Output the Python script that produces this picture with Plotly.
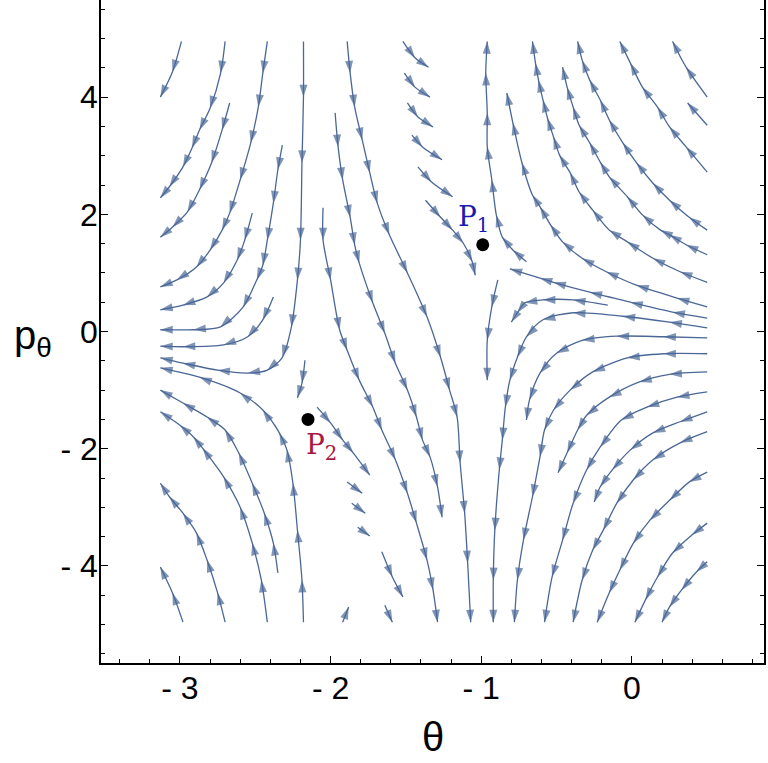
import plotly.graph_objects as go

# streamlines, each as (theta, p_theta) points in flow order
tl_1 = [(-2.99, 4.95), (-3.05, 4.43), (-3.13, 4.00)]
tl_2 = [(-2.70, 4.95), (-2.73, 4.41), (-2.80, 3.81), (-2.87, 3.44), (-2.92, 3.13),
        (-2.98, 2.81), (-3.07, 2.47), (-3.13, 2.28)]
tl_3 = [(-2.67, 3.90), (-2.72, 3.44), (-2.79, 2.88), (-2.87, 2.42), (-2.95, 2.04),
        (-3.05, 1.78), (-3.13, 1.61)]
tl_4 = [(-2.42, 4.95), (-2.45, 4.41), (-2.48, 3.83), (-2.53, 3.22), (-2.60, 2.59),
        (-2.67, 2.02), (-2.72, 1.73), (-2.80, 1.39), (-2.89, 1.10), (-3.02, 0.88), (-3.13, 0.76)]
tl_5 = [(-2.52, 2.02), (-2.57, 1.56), (-2.62, 1.22), (-2.71, 0.83), (-2.82, 0.59),
        (-2.98, 0.45), (-3.13, 0.37)]
tl_6 = [(-2.32, 3.18), (-2.35, 2.76), (-2.38, 2.19), (-2.42, 1.56), (-2.45, 1.13),
        (-2.49, 0.88), (-2.58, 0.42), (-2.73, 0.08), (-2.91, 0.03), (-3.13, 0.03)]
tl_7 = [(-2.38, 0.59), (-2.45, 0.20), (-2.55, -0.09), (-2.71, -0.23), (-2.98, -0.26), (-3.13, -0.25)]
tl_8 = [(-2.18, 4.95), (-2.18, 4.00), (-2.19, 2.88), (-2.20, 1.56), (-2.22, 0.88), (-2.26, 0.08),
        (-2.32, -0.44), (-2.42, -0.66), (-2.55, -0.71), (-2.75, -0.66), (-2.98, -0.54), (-3.13, -0.45)]
near_p2 = [(-2.17, -0.49), (-2.19, -0.88), (-2.22, -1.13)]

bl_1 = [(-2.18, -4.96), (-2.19, -4.24), (-2.22, -3.39), (-2.25, -2.59), (-2.29, -2.02),
        (-2.34, -1.73), (-2.45, -1.34), (-2.60, -1.05), (-2.87, -0.78), (-3.13, -0.62)]
bl_2 = [(-2.35, -4.12), (-2.38, -3.61), (-2.44, -3.10), (-2.52, -2.59), (-2.61, -2.07),
        (-2.70, -1.68), (-2.82, -1.46), (-2.98, -1.22), (-3.13, -1.00)]
bl_3 = [(-2.42, -4.96), (-2.46, -4.24), (-2.52, -3.61), (-2.60, -3.00), (-2.71, -2.48),
        (-2.85, -1.99), (-2.91, -1.80), (-3.00, -1.60), (-3.13, -1.37)]
bl_4 = [(-2.70, -4.96), (-2.75, -4.46), (-2.82, -3.90), (-2.89, -3.44), (-2.98, -3.10),
        (-3.07, -2.82), (-3.13, -2.59)]
bl_5 = [(-2.98, -4.96), (-3.05, -4.46), (-3.13, -4.02)]
bl_6 = [(-1.92, -4.96), (-1.88, -4.70)]

mid_1 = [(-1.89, 4.95), (-1.87, 4.41), (-1.84, 3.83), (-1.79, 3.27), (-1.74, 2.71), (-1.69, 2.19),
         (-1.61, 1.65), (-1.49, 1.00), (-1.36, 0.25), (-1.27, -0.44), (-1.21, -1.00), (-1.16, -1.46),
         (-1.14, -2.24), (-1.11, -3.10), (-1.09, -3.95), (-1.07, -4.96)]
mid_2 = [(-1.97, 3.73), (-1.95, 3.15), (-1.92, 2.59), (-1.87, 1.95), (-1.84, 1.48), (-1.81, 1.17),
         (-1.72, 0.49), (-1.64, -0.03), (-1.57, -0.54), (-1.49, -1.00), (-1.43, -1.46),
         (-1.39, -1.85), (-1.34, -2.14), (-1.29, -2.65), (-1.26, -3.17)]
mid_3 = [(-2.05, 2.11), (-2.05, 1.56), (-2.00, 0.88), (-1.94, 0.03), (-1.89, -0.32), (-1.81, -0.83),
         (-1.72, -1.29), (-1.66, -1.68), (-1.57, -2.19), (-1.49, -2.76), (-1.43, -3.27),
         (-1.36, -3.90), (-1.32, -4.41), (-1.29, -4.96)]

short_1 = [(-1.52, 4.95), (-1.44, 4.67), (-1.35, 4.51)]
short_2 = [(-1.51, 4.41), (-1.44, 4.17), (-1.34, 4.00)]
short_3 = [(-1.49, 3.90), (-1.42, 3.66), (-1.32, 3.49)]
short_4 = [(-1.46, 3.35), (-1.39, 3.15), (-1.26, 2.93)]
short_5 = [(-1.42, 2.81), (-1.33, 2.55), (-1.19, 2.30)]
short_6 = [(-1.37, 2.24), (-1.27, 1.95), (-1.19, 1.73), (-1.12, 1.51), (-1.06, 1.19), (-1.04, 0.96)]

below_p2_1 = [(-2.09, -1.29), (-2.00, -1.56), (-1.92, -1.85), (-1.85, -2.07), (-1.74, -2.45)]
below_p2_2 = [(-1.89, -2.57), (-1.79, -2.76)]
below_p2_3 = [(-1.86, -2.93), (-1.77, -3.10)]
below_p2_4 = [(-1.82, -3.34), (-1.74, -3.49)]
below_p2_5 = [(-1.66, -3.76), (-1.59, -4.19), (-1.52, -4.53)]
below_p2_6 = [(-1.64, -4.67), (-1.59, -4.96)]

above_p1 = [(-0.70, 1.19), (-0.79, 1.39), (-0.86, 1.61), (-0.90, 1.99), (-0.93, 2.59),
            (-0.96, 3.15), (-0.96, 3.73), (-0.97, 4.41), (-0.96, 4.95)]
below_p1 = [(-0.89, 0.88), (-0.93, 0.42), (-0.96, -0.15), (-0.96, -0.83)]

tr_1 = [(0.50, 0.42), (0.30, 0.57), (0.03, 0.79), (-0.17, 1.02), (-0.33, 1.25), (-0.46, 1.53),
        (-0.54, 1.82), (-0.61, 2.13), (-0.66, 2.33), (-0.73, 2.88), (-0.79, 3.56), (-0.83, 4.07)]
tr_2 = [(0.50, 0.84), (0.32, 1.02), (0.14, 1.25), (-0.03, 1.53), (-0.15, 1.73), (-0.26, 2.07),
        (-0.35, 2.38), (-0.41, 2.71), (-0.48, 3.01), (-0.52, 3.32), (-0.56, 3.64), (-0.59, 3.95),
        (-0.62, 4.29), (-0.64, 4.58), (-0.66, 4.95)]
tr_3 = [(0.50, 1.31), (0.36, 1.48), (0.25, 1.65), (0.19, 1.73), (0.07, 1.99), (-0.03, 2.30),
        (-0.15, 2.64), (-0.21, 2.89), (-0.28, 3.22), (-0.35, 3.52), (-0.39, 3.83), (-0.43, 4.17),
        (-0.46, 4.51)]
tr_4 = [(0.50, 1.73), (0.38, 1.95), (0.25, 2.24), (0.14, 2.53), (0.03, 2.88), (-0.06, 3.22),
        (-0.15, 3.61), (-0.21, 3.95), (-0.28, 4.29), (-0.33, 4.63), (-0.36, 4.95)]
tr_5 = [(0.50, 2.72), (0.36, 3.15), (0.25, 3.49), (0.17, 3.83), (0.07, 4.17), (-0.01, 4.58), (-0.08, 4.95)]
tr_6 = [(0.50, 4.00), (0.36, 4.51), (0.27, 4.95)]
tr_7 = [(0.50, 3.52), (0.37, 3.90)]

r_1 = [(0.50, 0.23), (0.27, 0.33), (-0.01, 0.50), (-0.28, 0.67), (-0.52, 0.84), (-0.61, 0.91), (-0.81, 1.07)]
r_2 = [(-0.16, 0.45), (-0.39, 0.54), (-0.59, 0.54), (-0.71, 0.49), (-0.76, 0.32), (-0.80, 0.16)]
r_3 = [(0.50, 0.06), (0.25, 0.16), (-0.06, 0.26), (-0.39, 0.32), (-0.59, 0.20), (-0.70, -0.09),
       (-0.76, -0.44), (-0.81, -0.83), (-0.84, -1.29), (-0.86, -1.85), (-0.88, -2.36),
       (-0.91, -3.39), (-0.92, -4.24), (-0.92, -4.96)]
r_4 = [(0.50, -0.11), (0.21, -0.09), (-0.10, -0.08), (-0.33, -0.15), (-0.50, -0.37),
       (-0.61, -0.71), (-0.68, -1.17), (-0.70, -1.51)]

br_1 = [(0.50, -0.38), (0.21, -0.38), (-0.03, -0.45), (-0.26, -0.69), (-0.41, -1.00), (-0.52, -1.34),
        (-0.58, -1.68), (-0.61, -2.14), (-0.66, -2.82), (-0.72, -3.56), (-0.76, -4.24), (-0.78, -4.96)]
br_2 = [(0.50, -0.69), (0.25, -0.73), (0.05, -0.86), (-0.15, -1.12), (-0.30, -1.43), (-0.36, -1.68),
        (-0.43, -2.07), (-0.49, -2.41)]
br_3 = [(0.50, -1.03), (0.30, -1.12), (0.10, -1.29), (-0.07, -1.51), (-0.21, -1.97), (-0.30, -2.36),
        (-0.39, -2.93), (-0.46, -3.56), (-0.53, -4.19), (-0.58, -4.96)]
br_4 = [(0.50, -1.37), (0.32, -1.54), (0.14, -1.73), (-0.01, -2.02), (-0.13, -2.36), (-0.21, -2.65),
        (-0.25, -2.91)]
br_5 = [(0.50, -1.71), (0.32, -1.90), (0.14, -2.19), (0.01, -2.53), (-0.10, -2.93), (-0.19, -3.39),
        (-0.26, -3.73), (-0.33, -4.24), (-0.39, -4.96)]
br_6 = [(0.50, -2.40), (0.38, -2.57), (0.25, -2.88), (0.12, -3.22), (0.01, -3.61), (-0.08, -4.07),
        (-0.15, -4.46), (-0.23, -4.96)]
br_7 = [(0.50, -3.27), (0.40, -3.47), (0.27, -3.78), (0.17, -4.19), (0.09, -4.58), (0.02, -4.96)]
br_8 = [(0.50, -3.93), (0.43, -4.10), (0.33, -4.41), (0.25, -4.70), (0.20, -4.96)]

streamlines = [tl_1, tl_2, tl_3, tl_4, tl_5, tl_6, tl_7, tl_8, near_p2,
               bl_1, bl_2, bl_3, bl_4, bl_5, bl_6, mid_1, mid_2, mid_3,
               short_1, short_2, short_3, short_4, short_5, short_6,
               below_p2_1, below_p2_2, below_p2_3, below_p2_4, below_p2_5, below_p2_6,
               above_p1, below_p1, tr_1, tr_2, tr_3, tr_4, tr_5, tr_6, tr_7,
               r_1, r_2, r_3, r_4, br_1, br_2, br_3, br_4, br_5, br_6, br_7, br_8]

# fixed points
point_names = ["P<sub>1</sub>", "P<sub>2</sub>"]
point_theta = [-0.99, -2.15]
point_p = [1.48, -1.50]
label_theta = [-1.05, -2.06]
label_p = [1.92, -1.97]
label_colors = ["#1a1ab0", "#a8173f"]

x_tickvals = [-3, -2, -1, 0]
x_ticktext = ["- 3", "- 2", "- 1", "0"]
y_tickvals = [-4, -2, 0, 2, 4]
y_ticktext = ["- 4", "- 2", "0", "2", "4"]
y_range = [-5.657, 5.657]

STREAM_COLOR = "#4a6797"
SANS = "Liberation Sans, Arial"

fig = go.Figure()

for line in streamlines:
    th = [pt[0] for pt in line]
    pp = [pt[1] for pt in line]
    sizes = [0] + [13] * (len(line) - 1)
    fig.add_trace(go.Scatter(
        x=th, y=pp, mode="lines+markers",
        line=dict(color=STREAM_COLOR, width=1.3, shape="spline", smoothing=0.8),
        marker=dict(symbol="arrow", size=sizes, angleref="previous",
                    color=STREAM_COLOR, line=dict(width=0)),
        hoverinfo="skip", showlegend=False))

fig.add_trace(go.Scatter(
    x=point_theta, y=point_p, mode="markers",
    marker=dict(color="black", size=13), showlegend=False))

# empty trace so the right-hand frame axis gets drawn
fig.add_trace(go.Scatter(x=[None], y=[None], yaxis="y2", mode="markers",
                         hoverinfo="skip", showlegend=False))

for name, tx, ty, col in zip(point_names, label_theta, label_p, label_colors):
    fig.add_annotation(x=tx, y=ty, text=name, showarrow=False,
                       font=dict(family="DejaVu Serif", size=28, color=col))

axis_common = dict(
    showgrid=False, zeroline=False, showline=True, linecolor="black", linewidth=1.5,
    ticks="inside", ticklen=7, tickwidth=1.2, tickcolor="black",
    tickfont=dict(family=SANS, size=32, color="black"),
)
y_minor = dict(dtick=0.5, ticks="inside", ticklen=4, tickcolor="black", tickwidth=1)

fig.update_xaxes(range=[-3.524, 0.877], tickvals=x_tickvals, ticktext=x_ticktext,
                 mirror=False, ticklabelstandoff=-4,
                 minor=dict(dtick=0.2, ticks="inside", ticklen=4, tickcolor="black", tickwidth=1),
                 **axis_common)
fig.update_yaxes(range=y_range, tickvals=y_tickvals, ticktext=y_ticktext,
                 ticklabelstandoff=-5, minor=y_minor, **axis_common)

fig.update_layout(
    yaxis2=dict(overlaying="y", side="right", range=y_range, tickvals=y_tickvals,
                showticklabels=False, showgrid=False, zeroline=False, showline=True,
                linecolor="black", linewidth=1.5, ticks="inside", ticklen=7, tickwidth=1.2,
                tickcolor="black", minor=y_minor),
)

fig.add_annotation(x=0.5, y=-0.112, xref="paper", yref="paper", text="θ", showarrow=False,
                   xanchor="center", yanchor="middle",
                   font=dict(family=SANS, size=40, color="black"))
fig.add_annotation(x=-0.102, y=0.49, xref="paper", yref="paper", text="p<sub>θ</sub>",
                   showarrow=False, xanchor="center", yanchor="middle",
                   font=dict(family=SANS, size=40, color="black"))

fig.update_layout(
    width=768, height=763,
    margin=dict(l=101, r=4, t=0, b=100),
    plot_bgcolor="white", paper_bgcolor="white",
    showlegend=False,
)

# drop the page's default body margin so the figure sits at the window corner
fig.write_html("out.html", config={"displayModeBar": False},
               post_script="document.body.style.margin = '0';")
